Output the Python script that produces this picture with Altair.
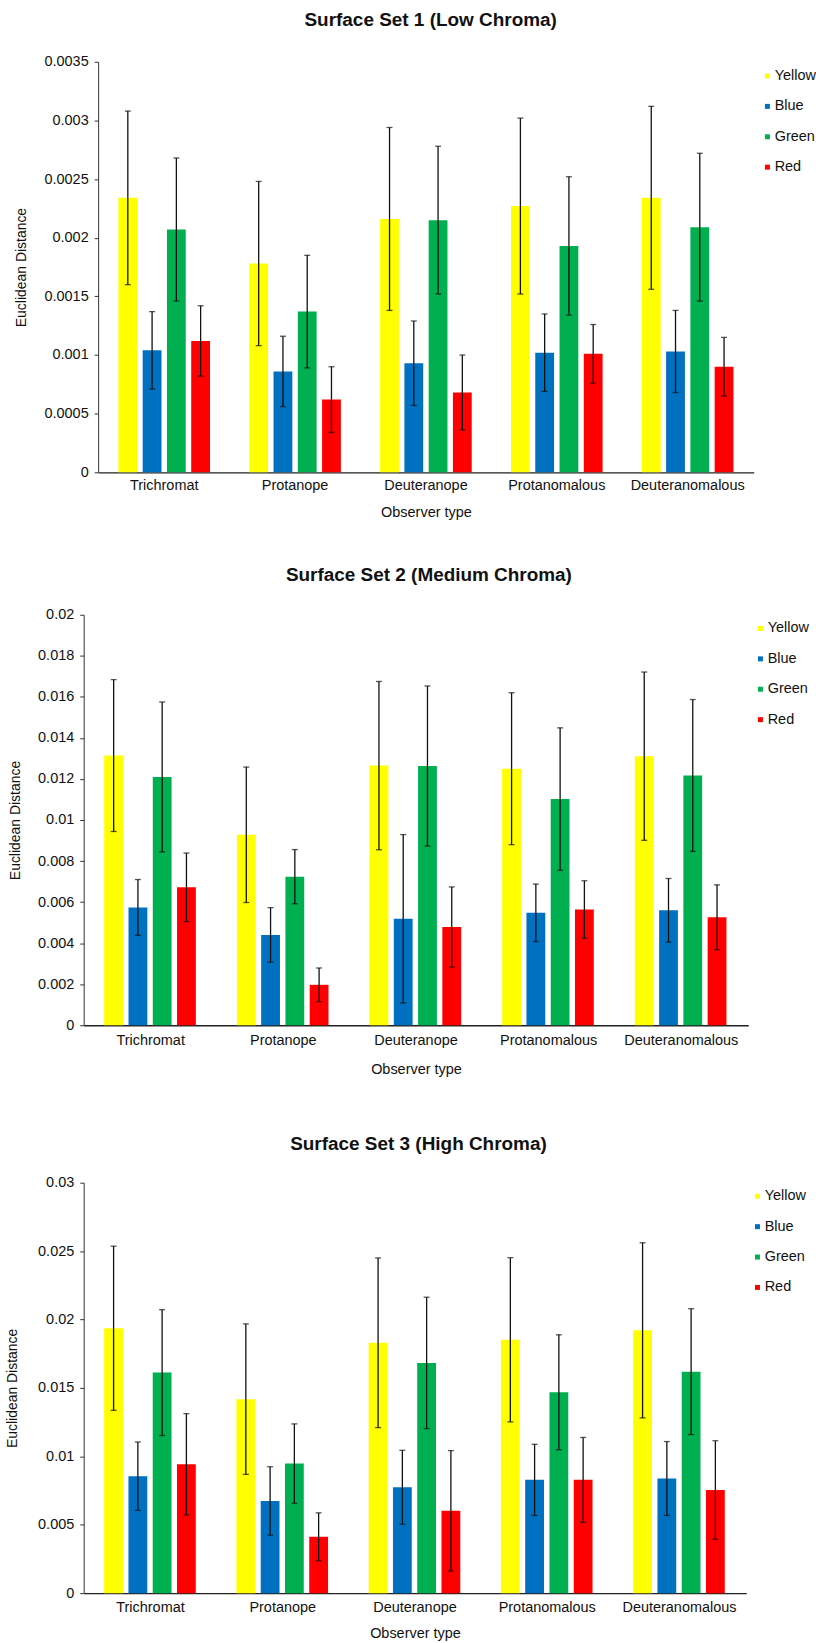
import altair as alt
import pandas as pd

OBSERVERS = ["Trichromat", "Protanope", "Deuteranope", "Protanomalous", "Deuteranomalous"]
COLOURS = ["Yellow", "Blue", "Green", "Red"]
FILLS = ["#FFFF00", "#0070C0", "#00B050", "#FF0000"]

# Mean Euclidean distance per observer type; each row is Yellow, Blue, Green, Red
set1_mean = [
    [0.00234, 0.00104, 0.00207, 0.00112],
    [0.00178, 0.00086, 0.00137, 0.00062],
    [0.00216, 0.00093, 0.00215, 0.00068],
    [0.00227, 0.00102, 0.00193, 0.00101],
    [0.00234, 0.00103, 0.00209, 0.00090],
]
set1_sd = [
    [0.00074, 0.00033, 0.00061, 0.00030],
    [0.00070, 0.00030, 0.00048, 0.00028],
    [0.00078, 0.00036, 0.00063, 0.00032],
    [0.00075, 0.00033, 0.00059, 0.00025],
    [0.00078, 0.00035, 0.00063, 0.00025],
]

set2_mean = [
    [0.01314, 0.00574, 0.01210, 0.00672],
    [0.00928, 0.00440, 0.00724, 0.00197],
    [0.01265, 0.00519, 0.01263, 0.00479],
    [0.01250, 0.00548, 0.01102, 0.00564],
    [0.01311, 0.00560, 0.01217, 0.00526],
]
set2_sd = [
    [0.00370, 0.00136, 0.00365, 0.00167],
    [0.00330, 0.00133, 0.00132, 0.00082],
    [0.00410, 0.00410, 0.00390, 0.00195],
    [0.00370, 0.00140, 0.00347, 0.00140],
    [0.00410, 0.00155, 0.00370, 0.00158],
]

set3_mean = [
    [0.01936, 0.00855, 0.01612, 0.00942],
    [0.01418, 0.00674, 0.00947, 0.00412],
    [0.01830, 0.00774, 0.01683, 0.00602],
    [0.01852, 0.00828, 0.01468, 0.00828],
    [0.01921, 0.00838, 0.01619, 0.00754],
]
set3_sd = [
    [0.00600, 0.00250, 0.00460, 0.00370],
    [0.00550, 0.00250, 0.00290, 0.00175],
    [0.00620, 0.00270, 0.00480, 0.00440],
    [0.00600, 0.00260, 0.00420, 0.00310],
    [0.00640, 0.00270, 0.00460, 0.00360],
]

FONT = "Liberation Sans"
INK = "#111111"


def frame(means, sds):
    rows = []
    for obs, m_row, s_row in zip(OBSERVERS, means, sds):
        for col, m, s in zip(COLOURS, m_row, s_row):
            rows.append({"observer": obs, "colour": col, "mean": m,
                         "lo": m - s, "hi": m + s})
    return pd.DataFrame(rows)


def panel(df, title, ymax, yticks, width, inset, title_offset, title_dx,
          ytitle_pad, xlabel_pad, xtitle_pad, legend_x, legend_y):
    # `inset` shifts the plotting area (and its y axis) right of the shared origin
    xscale = alt.Scale(paddingInner=0.3, paddingOuter=0.155)
    if inset:
        xscale = alt.Scale(paddingInner=0.3, paddingOuter=0.155,
                           range=[inset, width])
    x = alt.X(
        "observer:N", sort=OBSERVERS, title="Observer type", scale=xscale,
        axis=alt.Axis(labelAngle=0, ticks=False, tickSize=0,
                      labelPadding=xlabel_pad, titlePadding=xtitle_pad,
                      domainColor="#222222", domainWidth=1.3,
                      labelFontSize=14.5, titleFontSize=14.5,
                      titleFontWeight="normal"),
    )
    xo = alt.XOffset("colour:N", sort=COLOURS,
                     scale=alt.Scale(paddingInner=0.225, paddingOuter=0))
    yaxis = alt.Axis(values=yticks, format=".4~f", grid=False, tickSize=4,
                     labelPadding=6, titlePadding=ytitle_pad, offset=-inset,
                     domainColor="#333333", tickColor="#333333",
                     labelFontSize=14.5, titleFontSize=14,
                     titleFontWeight="normal")
    yscale = alt.Scale(domain=[0, ymax], nice=False, zero=True)
    color = alt.Color(
        "colour:N", sort=COLOURS,
        scale=alt.Scale(domain=COLOURS, range=FILLS),
        legend=alt.Legend(title=None, orient="none", legendX=legend_x,
                          legendY=legend_y, symbolType="square",
                          symbolSize=25, symbolStrokeWidth=0,
                          labelFontSize=14.5, rowPadding=15.5,
                          labelOffset=0, padding=0),
    )
    base = alt.Chart(df)
    bars = base.mark_bar().encode(
        x=x, xOffset=xo,
        y=alt.Y("mean:Q", title="Euclidean Distance", scale=yscale, axis=yaxis),
        color=color,
    )
    whiskers = base.mark_rule(color=INK, strokeWidth=1.3).encode(
        x=x, xOffset=xo,
        y=alt.Y("lo:Q", title="Euclidean Distance", scale=yscale, axis=yaxis),
        y2="hi:Q",
    )
    cap_lo = base.mark_tick(color=INK, thickness=1.3, size=6).encode(
        x=x, xOffset=xo,
        y=alt.Y("lo:Q", title="Euclidean Distance", scale=yscale, axis=yaxis),
    )
    cap_hi = base.mark_tick(color=INK, thickness=1.3, size=6).encode(
        x=x, xOffset=xo,
        y=alt.Y("hi:Q", title="Euclidean Distance", scale=yscale, axis=yaxis),
    )
    return alt.layer(bars, whiskers, cap_lo, cap_hi).properties(
        width=width, height=412,
        title=alt.TitleParams(title, fontSize=19, fontWeight="bold",
                              font=FONT, color=INK, offset=title_offset,
                              dx=title_dx, baseline="alphabetic",
                              anchor="middle"),
    )


p1 = panel(frame(set1_mean, set1_sd), "Surface Set 1 (Low Chroma)", 0.0035,
           [0, 0.0005, 0.001, 0.0015, 0.002, 0.0025, 0.003, 0.0035],
           672.5, 14.5, 9, 12, 15.9, 6.5, 13.5, 679, 7)
p2 = panel(frame(set2_mean, set2_sd), "Surface Set 2 (Medium Chroma)", 0.02,
           [0, 0.002, 0.004, 0.006, 0.008, 0.01, 0.012, 0.014, 0.016, 0.018, 0.02],
           667, 0, 6.4, 13, 15.1, 8.3, 15.9, 672, 6.5)
p3 = panel(frame(set3_mean, set3_sd), "Surface Set 3 (High Chroma)", 0.03,
           [0, 0.005, 0.01, 0.015, 0.02, 0.025, 0.03],
           665, 0, 5.7, 3.5, 17.7, 7.8, 12, 669, 6.4)

top = alt.concat(p1, p2, columns=1, spacing=47).resolve_scale(
    color="independent").resolve_legend(color="independent")
chart = alt.concat(top, p3, columns=1, spacing=58).resolve_scale(
    color="independent").resolve_legend(color="independent").properties(
    padding={"left": 6, "top": 8, "right": 0, "bottom": 0},
).configure(font=FONT).configure_view(stroke=None).configure_axis(
    labelFont=FONT, titleFont=FONT, labelColor=INK, titleColor=INK,
).configure_legend(labelFont=FONT, labelColor=INK)

chart.save("out.html", embed_options={"renderer": "svg", "actions": False})
